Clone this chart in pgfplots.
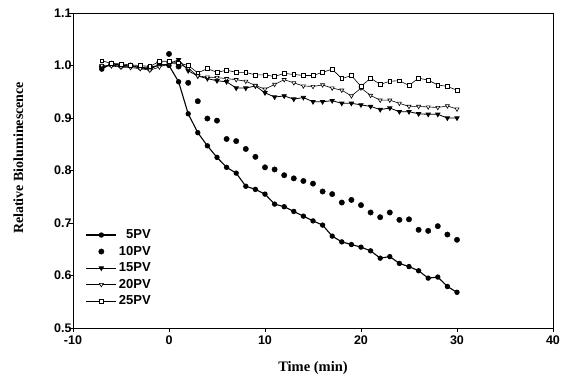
\documentclass[border=0pt]{standalone}
\usepackage{pgfplots}
\pgfplotsset{compat=1.18}
\usepackage{fontspec}
\setmainfont{Liberation Serif}
\setsansfont{Liberation Sans}
\begin{document}
\begin{tikzpicture}
\useasboundingbox (-73pt,-57pt) rectangle (490pt,328pt);
\begin{axis}[
  at={(0pt,0pt)}, anchor=south west,
  width=480pt, height=315pt, scale only axis,
  xmin=-10, xmax=40, ymin=0.5, ymax=1.1,
  xtick={-10,0,10,20,30,40},
  xticklabels={-10,0,10,20,30,40},
  ytick={0.5,0.6,0.7,0.8,0.9,1.0,1.1},
  yticklabels={0.5,0.6,0.7,0.8,0.9,1.0,1.1},
  xtick pos=bottom, ytick pos=left,
  tick align=outside,
  major tick length=4pt,
  axis line style={line width=0.9pt},
  tick style={line width=0.8pt, black},
  tick label style={font=\sffamily\bfseries\fontsize{12.5}{14}\selectfont},
  yticklabel style={anchor=east, xshift=6pt},
  xlabel={\textbf{Time (min)}},
  ylabel={\textbf{Relative Bioluminescence}},
  xlabel style={font=\fontsize{14.5}{16}\selectfont, at={(axis description cs:0.5,-0.127)}, anchor=center},
  ylabel style={font=\fontsize{14}{16}\selectfont, at={(axis description cs:-0.114,0.54)}, anchor=center},
  legend cell align=right,
  legend style={draw=none, fill=none, at={(0.02,0.325)}, anchor=north west,
    font=\sffamily\bfseries\fontsize{13}{14.5}\selectfont, row sep=2pt},
  legend image code/.code={\draw[mark repeat=2,mark phase=2,#1] plot coordinates {(0pt,0pt) (15pt,0pt) (30pt,0pt)};},
]
\addplot[black, line width=1.1pt, mark=*, mark size=2.1pt] coordinates {
(-7,0.993) (-6,1.004) (-5,1.000) (-4,0.999) (-3,0.996) (-2,0.993) (-1,1.002) (0,1.000)
(1,0.969) (2,0.908) (3,0.872) (4,0.847) (5,0.825) (6,0.806) (7,0.795) (8,0.770) (9,0.764) (10,0.755)
(11,0.736) (12,0.731) (13,0.722) (14,0.713) (15,0.704) (16,0.696) (17,0.675) (18,0.664) (19,0.659) (20,0.654)
(21,0.647) (22,0.633) (23,0.636) (24,0.623) (25,0.617) (26,0.609) (27,0.595) (28,0.597) (29,0.579) (30,0.568)
};
\addlegendentry{5PV}
\addplot[black, only marks, mark=*, mark size=2.7pt] coordinates {
(-7,0.998) (-6,1.002) (-5,0.999) (-4,1.000) (-3,0.997) (-2,0.995) (-1,1.006) (0,1.022)
(1,0.998) (2,0.967) (3,0.932) (4,0.899) (5,0.895) (6,0.860) (7,0.856) (8,0.841) (9,0.826) (10,0.806)
(11,0.802) (12,0.791) (13,0.785) (14,0.780) (15,0.775) (16,0.760) (17,0.755) (18,0.739) (19,0.744) (20,0.734)
(21,0.720) (22,0.711) (23,0.720) (24,0.706) (25,0.707) (26,0.687) (27,0.685) (28,0.694) (29,0.678) (30,0.668)
};
\addlegendentry{10PV}
\addplot[black, line width=0.8pt, mark=triangle*, mark size=2.4pt, mark options={rotate=180, solid}] coordinates {
(-7,0.996) (-6,1.001) (-5,0.998) (-4,0.999) (-3,0.996) (-2,0.997) (-1,1.000) (0,1.003)
(1,1.011) (2,0.990) (3,0.980) (4,0.975) (5,0.971) (6,0.969) (7,0.957) (8,0.957) (9,0.961) (10,0.948)
(11,0.940) (12,0.942) (13,0.936) (14,0.939) (15,0.931) (16,0.931) (17,0.933) (18,0.928) (19,0.928) (20,0.925)
(21,0.922) (22,0.916) (23,0.919) (24,0.912) (25,0.912) (26,0.908) (27,0.907) (28,0.907) (29,0.900) (30,0.900)
};
\addlegendentry{15PV}
\addplot[black, line width=0.6pt, mark=triangle*, mark size=2.3pt, mark options={rotate=180, fill=white, solid}] coordinates {
(-7,1.000) (-6,0.999) (-5,0.997) (-4,0.996) (-3,0.994) (-2,0.991) (-1,0.997) (0,1.004)
(1,1.003) (2,0.995) (3,0.980) (4,0.978) (5,0.977) (6,0.975) (7,0.973) (8,0.970) (9,0.962) (10,0.955)
(11,0.964) (12,0.973) (13,0.967) (14,0.961) (15,0.960) (16,0.963) (17,0.957) (18,0.953) (19,0.942) (20,0.957)
(21,0.943) (22,0.934) (23,0.934) (24,0.928) (25,0.922) (26,0.922) (27,0.921) (28,0.920) (29,0.923) (30,0.917)
};
\addlegendentry{20PV}
\addplot[black, line width=0.6pt, mark=square*, mark size=1.9pt, mark options={fill=white, solid}] coordinates {
(-7,1.009) (-6,1.004) (-5,1.003) (-4,1.001) (-3,1.000) (-2,0.998) (-1,1.008) (0,1.008)
(1,1.005) (2,1.000) (3,0.986) (4,0.994) (5,0.987) (6,0.991) (7,0.987) (8,0.987) (9,0.982) (10,0.982)
(11,0.979) (12,0.985) (13,0.983) (14,0.981) (15,0.981) (16,0.987) (17,0.993) (18,0.975) (19,0.981) (20,0.960)
(21,0.976) (22,0.964) (23,0.970) (24,0.971) (25,0.962) (26,0.976) (27,0.972) (28,0.963) (29,0.960) (30,0.953)
};
\addlegendentry{25PV}
\end{axis}
\end{tikzpicture}
\end{document}
